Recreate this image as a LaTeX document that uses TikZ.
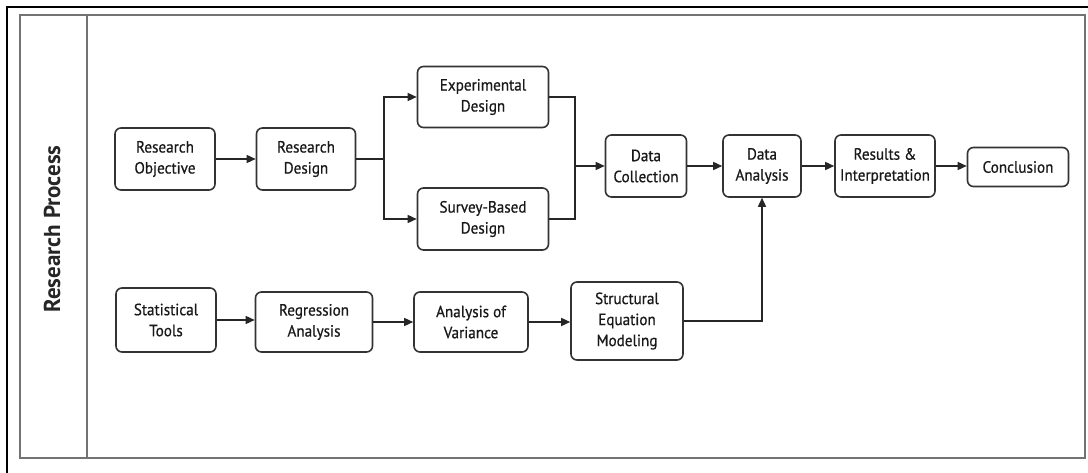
\documentclass[tikz,border=0pt]{standalone}
\usepackage{fontspec}
\setmainfont{PT Sans}
\newfontfamily\boxfont[FakeBold=0.6, FakeStretch=0.93]{PT Sans}
\usetikzlibrary{arrows.meta}
\begin{document}
\begin{tikzpicture}[x=1pt,y=-1pt,
  box/.style={draw=black!80, line width=1.6pt, rounded corners=6pt, fill=white,
    align=center, inner sep=0pt, font=\boxfont\fontsize{16.3}{21}\selectfont, text=black!90},
  link/.style={draw=black!85, line width=1.5pt},
  arr/.style={link, -{Triangle[length=9pt,width=8pt]}},
  frame/.style={draw=black!55, line width=2.4pt}]
\useasboundingbox (0,0) rectangle (1088,473);

% outer border and swimlane frame
\draw[black, line width=1.4pt] (7,473) -- (7,7) -- (1088,7);
\draw[frame] (20,15) rectangle (1085,458);
\draw[frame] (87,15) -- (87,458);
\node[rotate=90, font=\bfseries\fontsize{23}{27}\selectfont, text=black!85] (lane) at (52,229) {Research Process};

% research design path
\node[box, minimum width=100pt, minimum height=62pt] (ro) at (165,159) {Research\\Objective};
\node[box, minimum width=99pt, minimum height=62pt] (rd) at (306,159) {Research\\Design};
\node[box, minimum width=131pt, minimum height=61pt] (exp) at (483,97) {Experimental\\Design};
\node[box, minimum width=131pt, minimum height=62pt] (svy) at (483,219) {Survey-Based\\Design};
\node[box, minimum width=81pt, minimum height=62pt] (dc) at (646,166) {Data\\Collection};
\node[box, minimum width=78pt, minimum height=62pt] (da) at (762,166) {Data\\Analysis};
\node[box, minimum width=100pt, minimum height=62pt] (ri) at (885,166) {Results \&\\Interpretation};
\node[box, minimum width=101pt, minimum height=39pt] (con) at (1018,167) {Conclusion};

% statistical tools path
\node[box, minimum width=100pt, minimum height=64pt] (st) at (166,320) {Statistical\\Tools};
\node[box, minimum width=117pt, minimum height=60pt] (ra) at (314,322) {Regression\\Analysis};
\node[box, minimum width=114pt, minimum height=60pt] (aov) at (471,322) {Analysis of\\Variance};
\node[box, minimum width=112pt, minimum height=78pt] (sem) at (627,321) {Structural\\Equation\\Modeling};

% junction points
\coordinate (split) at (384,159);
\coordinate (merge) at (575,166);

% connectors
\draw[arr] (ro) -- (rd);
\draw[link] (rd.east) -- (split);
\draw[arr] (split) |- (exp.west);
\draw[arr] (split) |- (svy.west);
\draw[link] (exp.east) -| (merge);
\draw[link] (svy.east) -| (merge);
\draw[arr] (merge) -- (dc.west);
\draw[arr] (dc) -- (da);
\draw[arr] (da) -- (ri);
\draw[arr] (ri.east) -- (ri.east -| con.west);

\draw[arr] (st.east) -- (st.east -| ra.west);
\draw[arr] (ra.east) -- (ra.east -| aov.west);
\draw[arr] (aov.east) -- (aov.east -| sem.west);
\draw[arr] (sem.east) -| (da.south);
\end{tikzpicture}
\end{document}
